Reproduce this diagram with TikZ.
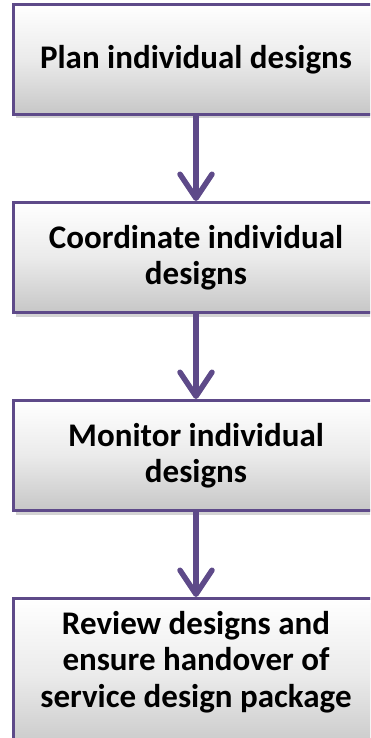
\documentclass[tikz,border=0pt]{standalone}
\usepackage{fontspec}
\setmainfont{Carlito}
\usepackage{tikz}
\usetikzlibrary{positioning, shadows, arrows.meta}
\definecolor{boxline}{HTML}{5E4A89}

\begin{document}
\begin{tikzpicture}[x=1pt, y=1pt, node distance=85pt,
    stepbox/.style={draw=boxline, line width=3pt, rectangle,
        minimum width=366pt, minimum height=110pt, align=center,
        top color=white, bottom color=black!22, middle color=black!8,
        drop shadow={shadow xshift=3pt, shadow yshift=-4pt, opacity=.35},
        font=\bfseries\fontsize{33}{36.5}\selectfont},
    flow/.style={draw=boxline, line width=5.5pt,
        -{Straight Barb[length=24pt, width=32pt, round]}}
    ]
    % Rahmen.
    \clip (0,0) rectangle (370,-738);

    % Kaesten.
    \node[stepbox] (plan) at (196,-59.5) {Plan individual designs};
    \node[stepbox, below=of plan] (coord) {Coordinate individual\\designs};
    \node[stepbox, below=of coord] (monitor) {Monitor individual\\designs};
    \node[stepbox, minimum height=154pt, below=of monitor] (review)
        {\raisebox{12pt}[\height][\depth]{\begin{tabular}{@{}c@{}}
            Review designs and\\ensure handover of\\service design package
        \end{tabular}}};

    % Pfeile.
    \draw[flow] (plan) -- (coord);
    \draw[flow] (coord) -- (monitor);
    \draw[flow] (monitor) -- (review);
\end{tikzpicture}
\end{document}
